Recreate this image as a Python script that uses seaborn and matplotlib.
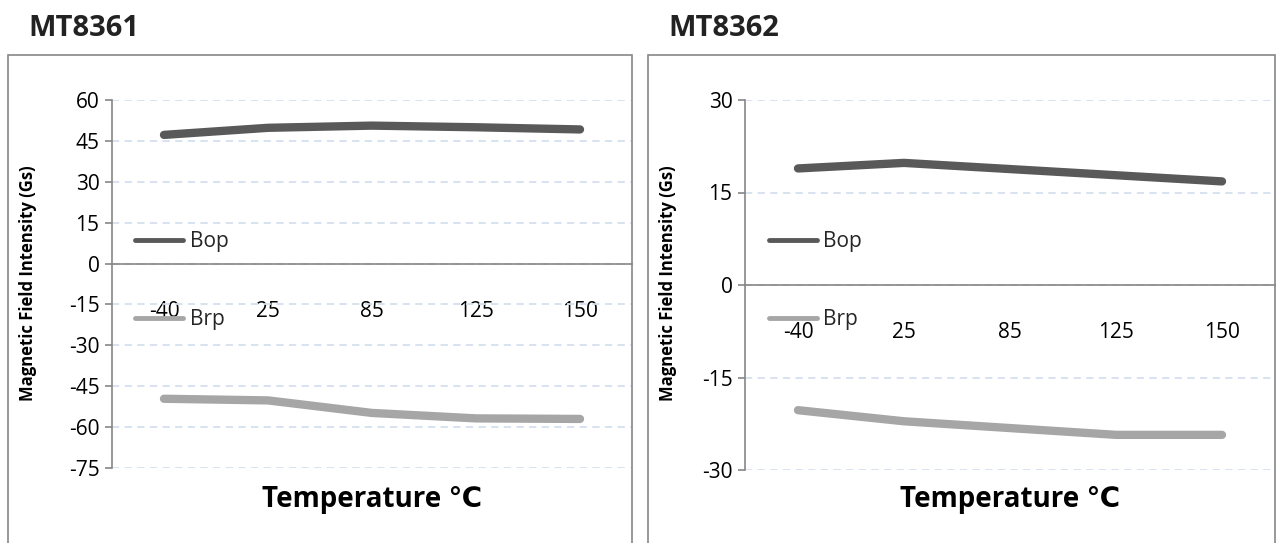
import matplotlib
matplotlib.use("Agg")
import matplotlib.pyplot as plt
from matplotlib.patches import Rectangle
import seaborn as sns
import pandas as pd

temps = ["-40", "25", "85", "125", "150"]
mt8361_bop = [47.2, 49.8, 50.6, 50.0, 49.2]
mt8361_brp = [-49.6, -50.2, -54.8, -56.8, -57.0]
mt8362_bop = [18.9, 19.8, 18.8, 17.8, 16.8]
mt8362_brp = [-20.3, -22.1, -23.2, -24.3, -24.3]

titles = ["MT8361", "MT8362"]
ylims = [(-75, 60), (-30, 30)]
yticks = [list(range(-75, 61, 15)), list(range(-30, 31, 15))]
ylabel = "Magnetic Field Intensity (Gs)"
xlabel = "Temperature \u2103"

sns.set_theme(style="white")
plt.rcParams["font.family"] = ["Open Sans", "DejaVu Sans"]
plt.rcParams["axes.unicode_minus"] = False

fig = plt.figure(figsize=(12.8, 5.43), dpi=100)
H = 543.0
W = 1280.0

def fx(px):
    return px / W

def fy(py):
    return 1 - py / H

ax_specs = [
    (112, 632, 100, 468),
    (745, 1275, 100, 470),
]
box_specs = [(8, 632), (648, 1275)]

series = [(mt8361_bop, mt8361_brp), (mt8362_bop, mt8362_brp)]
palette = {"Bop": "#595959", "Brp": "#A6A6A6"}

for i in range(2):
    x0, x1, yt, yb = ax_specs[i]
    ax = fig.add_axes([fx(x0), fy(yb), fx(x1) - fx(x0), fy(yt) - fy(yb)])
    bop, brp = series[i]
    df = pd.DataFrame({
        "Temperature": temps + temps,
        "Value": bop + brp,
        "Series": ["Bop"] * len(temps) + ["Brp"] * len(temps),
    })
    sns.lineplot(data=df, x="Temperature", y="Value", hue="Series",
                 palette=palette, sort=False, linewidth=6, ax=ax,
                 solid_capstyle="round")
    ax.set_ylim(*ylims[i])
    ax.set_yticks(yticks[i])
    ax.set_xlim(-0.5, 4.5)
    ax.set_facecolor("none")
    for s in ["top", "right"]:
        ax.spines[s].set_visible(False)
    ax.spines["left"].set_color("#868686")
    ax.spines["left"].set_linewidth(1.2)
    ax.spines["bottom"].set_position(("data", 0))
    ax.spines["bottom"].set_color("#868686")
    ax.spines["bottom"].set_linewidth(1.2)
    ax.yaxis.grid(True, color="#D5DFEF", linestyle=(0, (4, 3)), linewidth=1.3)
    ax.set_axisbelow(True)
    ax.tick_params(axis="y", which="both", left=True, length=5, width=1.2,
                   color="#868686", labelsize=15, labelcolor="#000000", pad=4)
    ax.tick_params(axis="x", which="both", bottom=False, length=0,
                   labelsize=15, labelcolor="#000000", pad=27)
    ax.set_xlabel("")
    ax.set_ylabel("")
    fig.text(fx((x0 + x1) / 2), fy(500), xlabel, ha="center", va="center",
             fontsize=20, fontweight="bold", color="#000000")
    fig.text(fx(box_specs[i][0] + 20), fy(283), ylabel, ha="center", va="center",
             rotation=90, fontsize=12, fontweight="bold", color="#000000")
    fig.text(fx(box_specs[i][0] + 20), fy(28), titles[i], ha="left", va="center",
             fontsize=21, fontweight="bold", color="#222222")
    bx0, bx1 = box_specs[i]
    fig.add_artist(Rectangle((fx(bx0), -0.01), fx(bx1) - fx(bx0), fy(55) + 0.01,
                             transform=fig.transFigure, fill=False,
                             edgecolor="#868686", linewidth=1.2))
    handles, labels = ax.get_legend_handles_labels()
    ytop = (yb - 231) / (yb - yt)
    leg = ax.legend(handles, labels, loc="upper left",
                    bbox_to_anchor=(0.045, ytop), frameon=False,
                    fontsize=15, labelspacing=2.75, handlelength=2.3,
                    handletextpad=0.3, borderpad=0, borderaxespad=0)
    for ln in leg.get_lines():
        ln.set_linewidth(3.5)

fig.savefig("out.png", dpi=100)
